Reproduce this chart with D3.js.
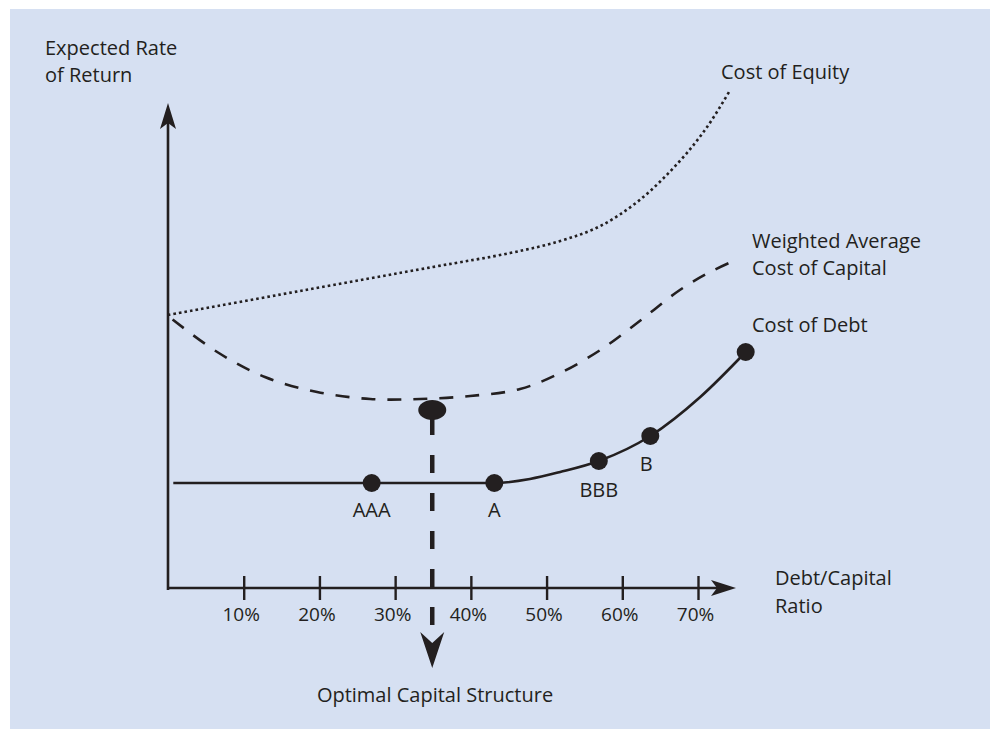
<html>
  <head>
    <meta content="text/html; charset=utf-8" http-equiv="Content-Type">
    <style>
      body { margin: 0; background: #ffffff; }
      text { font-family: 'Open Sans', sans-serif; font-size: 20px; fill: #231f20; }
    </style>
  </head>
  <body>
    <svg id="svg"></svg>

<script src="https://d3js.org/d3.v7.min.js"></script>
<script>

// debt/capital ratio (%) and expected rate of return (arbitrary units, y axis has no ticks)
const tickValues = [10, 20, 30, 40, 50, 60, 70];

const equityX = [0, 17.4, 35, 45.2, 51.8, 57.1, 62.3, 67.6, 71.2, 74.1];
const equityY = [13.65, 14.85, 16.05, 16.75, 17.35, 18.1, 19.4, 21.35, 23.05, 24.8];

const waccX = [0, 6.5, 12.8, 19.7, 26.7, 33.3, 39.9, 46.5, 51.8, 57.1, 62.3, 67.6, 71.6, 75.3];
const waccY = [13.6, 11.8, 10.55, 9.8, 9.45, 9.45, 9.6, 9.95, 10.75, 11.9, 13.35, 14.9, 15.8, 16.45];

const debtX = [0.7, 26.9, 43.1, 47.8, 51.8, 56.9, 63.7, 70.3, 76.3];
const debtY = [5.25, 5.25, 5.25, 5.45, 5.8, 6.35, 7.6, 9.55, 11.8];

const ratingNames = ["AAA", "A", "BBB", "B", ""];
const ratingX = [26.9, 43.1, 56.9, 63.7, 76.3];
const ratingY = [5.25, 5.25, 6.35, 7.6, 11.8];

const optimalX = 34.9;
const optimalY = 8.9;

const width = 990;
const height = 729;
const ink = "#231f20";

const svg = d3.select("#svg")
    .attr("width", width)
    .attr("height", height);

svg.append("rect")
    .attr("x", 10)
    .attr("y", 9)
    .attr("width", width - 10)
    .attr("height", height - 9)
    .attr("fill", "#d6e0f2");

const xScale = d3.scaleLinear()
    .domain([0, 70])
    .range([168, 698]);

const yScale = d3.scaleLinear()
    .domain([0, 25])
    .range([588, 88]);

const toPoints = (xs, ys) => xs.map((x, i) => [x, ys[i]]);

const line = d3.line()
    .x(d => xScale(d[0]))
    .y(d => yScale(d[1]))
    .curve(d3.curveMonotoneX);

const smooth = d3.line()
    .x(d => xScale(d[0]))
    .y(d => yScale(d[1]))
    .curve(d3.curveCatmullRom.alpha(0.5));

// axes
const axisY = yScale(0);

svg.append("line")
    .attr("x1", xScale(0)).attr("y1", axisY + 2)
    .attr("x2", xScale(0)).attr("y2", 115)
    .attr("stroke", ink).attr("stroke-width", 2.6);

svg.append("path")
    .attr("d", `M${xScale(0)},103 L${xScale(0) + 8},129 L${xScale(0)},123 L${xScale(0) - 8},129 Z`)
    .attr("fill", ink);

svg.append("line")
    .attr("x1", xScale(0)).attr("y1", axisY)
    .attr("x2", 725).attr("y2", axisY)
    .attr("stroke", ink).attr("stroke-width", 2.6);

svg.append("path")
    .attr("d", `M736,${axisY} L711,${axisY - 8} L717,${axisY} L711,${axisY + 8} Z`)
    .attr("fill", ink);

const xAxis = svg.append("g")
    .attr("transform", `translate(0, ${axisY})`)
    .call(d3.axisBottom(xScale).tickValues(tickValues).tickFormat(d => d + "%"));

xAxis.select(".domain").remove();
xAxis.selectAll("line")
    .attr("y1", -12).attr("y2", 12)
    .attr("stroke", ink).attr("stroke-width", 2.4);
xAxis.selectAll("text")
    .attr("y", 33).attr("dy", 0)
    .attr("x", -3)
    .attr("fill", ink)
    .style("font-family", "'Open Sans', sans-serif")
    .style("font-size", "19px");

// curves
svg.append("path")
    .datum(toPoints(equityX, equityY))
    .attr("fill", "none")
    .attr("stroke", ink)
    .attr("stroke-width", 2.6)
    .attr("stroke-dasharray", "2.6,3")
    .attr("d", smooth);

svg.append("path")
    .datum(toPoints(waccX, waccY))
    .attr("fill", "none")
    .attr("stroke", ink)
    .attr("stroke-width", 2.6)
    .attr("stroke-dasharray", "14,12")
    .attr("stroke-dashoffset", -6)
    .attr("d", smooth);

svg.append("path")
    .datum(toPoints(debtX, debtY))
    .attr("fill", "none")
    .attr("stroke", ink)
    .attr("stroke-width", 2.6)
    .attr("d", line);

// optimal capital structure marker
const ox = xScale(optimalX);
const oy = yScale(optimalY);

svg.append("line")
    .attr("x1", ox).attr("y1", oy + 7)
    .attr("x2", ox).attr("y2", 630)
    .attr("stroke", ink)
    .attr("stroke-width", 4.5)
    .attr("stroke-dasharray", "18,20");

svg.append("ellipse")
    .attr("cx", ox).attr("cy", oy)
    .attr("rx", 14).attr("ry", 10)
    .attr("fill", ink);

svg.append("path")
    .attr("d", `M${ox},668 L${ox - 12},632 L${ox},643 L${ox + 12},632 Z`)
    .attr("fill", ink);

// rating dots
svg.selectAll(".rating")
    .data(ratingX.map((x, i) => ({ x: x, y: ratingY[i], name: ratingNames[i] })))
    .enter().append("circle")
    .attr("class", "rating")
    .attr("cx", d => xScale(d.x))
    .attr("cy", d => yScale(d.y))
    .attr("r", 9)
    .attr("fill", ink);

const ratingLabelDy = [34, 34, 36, 35, 0];
svg.selectAll(".rating-label")
    .data(ratingX.map((x, i) => ({ x: x, y: ratingY[i], name: ratingNames[i], dy: ratingLabelDy[i] })))
    .enter().append("text")
    .attr("class", "rating-label")
    .attr("x", d => xScale(d.x) + (d.name === "B" ? -4 : 0))
    .attr("y", d => yScale(d.y) + d.dy)
    .attr("text-anchor", "middle")
    .text(d => d.name);

// labels
function label(x, y, txt, anchor) {
  svg.append("text")
      .attr("x", x).attr("y", y)
      .attr("text-anchor", anchor || "start")
      .text(txt);
}

label(45, 55, "Expected Rate");
label(45, 82, "of Return");
label(721, 79, "Cost of Equity");
label(752, 248, "Weighted Average");
label(752, 275, "Cost of Capital");
label(752, 332, "Cost of Debt");
label(775, 585, "Debt/Capital");
label(775, 613, "Ratio");
label(435, 702, "Optimal Capital Structure", "middle");

</script>
</body>
</html>
